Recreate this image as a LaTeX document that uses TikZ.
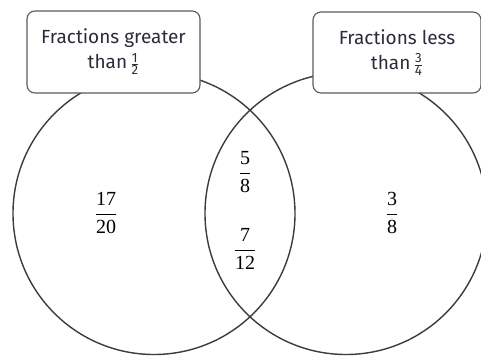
\documentclass[tikz,border=0pt]{standalone}
\usepackage{amsmath}
\usepackage{fontspec}
\setmainfont{Liberation Serif}
\newfontfamily\labelfont{Fira Sans}
\definecolor{ringgray}{HTML}{3C3C3C}
\definecolor{boxgray}{HTML}{5A5A5A}
\definecolor{labelink}{HTML}{2E2A3A}
\tikzset{
  ring/.style={circle, draw=ringgray, line width=1.4pt, minimum size=282pt, inner sep=0pt},
  setbox/.style={draw=boxgray, line width=1.1pt, rounded corners=8pt, fill=white, align=center,
    inner sep=0pt, font=\labelfont\fontsize{19}{25}\selectfont, text=labelink},
  frac/.style={inner sep=0pt, font=\fontsize{20}{24}\selectfont}
}
\newcommand{\smallfr}[2]{$\textstyle\frac{\text{#1}}{\text{#2}}$}
\begin{document}
\begin{tikzpicture}[x=1pt, y=1pt]
        \useasboundingbox (0,0) rectangle (481,358);
        % Circles
        \node (left) at (154,144.5) [ring] {};
        \node (right) at (346,144.5) [ring] {};
        % Set labels (on top of the circles)
        \node (lbox) at (113.5,306) [setbox, minimum width=173pt, minimum height=82pt] {Fractions greater\\than\,\smallfr{1}{2}};
        \node (rbox) at (397,305.5) [setbox, minimum width=168pt, minimum height=81pt] {Fractions less\\than\,\smallfr{3}{4}};
        % Members
        \node (f1720) at (106,145) [frac] {$\dfrac{\text{17}}{\text{20}}$};
        \node (f58) at (245,186) [frac] {$\dfrac{\text{5}}{\text{8}}$};
        \node (f712) at (245,109) [frac] {$\dfrac{\text{7}}{\text{12}}$};
        \node (f38) at (392,145) [frac] {$\dfrac{\text{3}}{\text{8}}$};
      \end{tikzpicture}
\end{document}
